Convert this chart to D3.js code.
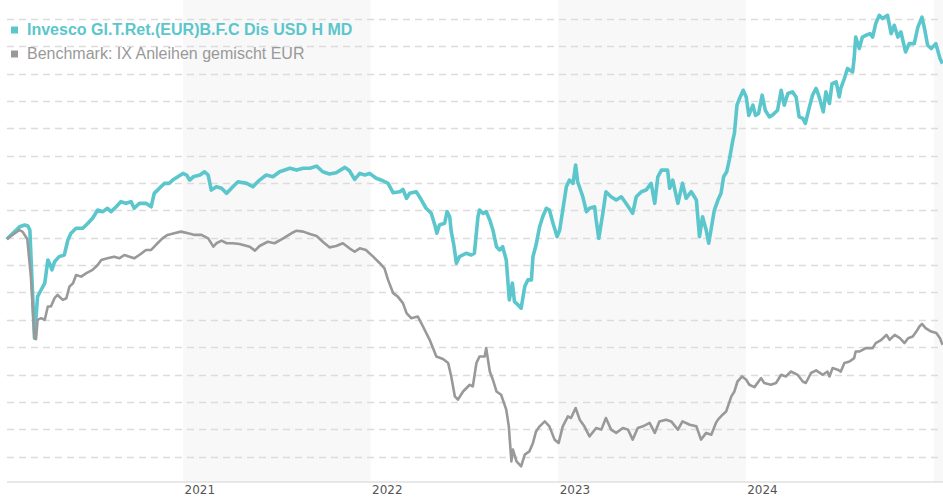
<!DOCTYPE html>
<html>
<head>
<meta charset="utf-8">
<script src="https://cdn.jsdelivr.net/npm/d3@7"></script>
<style>
  body { margin: 0; background: #fff; }
  svg { display: block; }
</style>
</head>
<body>
<div id="chart"></div>
<script>
// Fund and benchmark performance (%)
const fundName = "Invesco Gl.T.Ret.(EUR)B.F.C Dis USD H MD";
const benchName = "Benchmark: IX Anleihen gemischt EUR";

const fundDates = [
  "2020-01-24","2020-02-18","2020-02-28","2020-03-05","2020-03-09","2020-03-18","2020-03-24","2020-03-31","2020-04-07","2020-04-13",
  "2020-04-16","2020-04-21","2020-04-26","2020-05-05","2020-05-15","2020-05-22","2020-05-28","2020-06-07","2020-06-20","2020-06-30",
  "2020-07-09","2020-07-19","2020-07-29","2020-08-07","2020-08-14","2020-08-24","2020-09-02","2020-09-12","2020-09-22","2020-09-28",
  "2020-10-08","2020-10-21","2020-10-31","2020-11-06","2020-11-16","2020-11-26","2020-12-05","2020-12-12","2020-12-22","2021-01-01",
  "2021-01-08","2021-01-14","2021-01-21","2021-02-03","2021-02-12","2021-02-19","2021-02-25","2021-03-07","2021-03-17","2021-03-27",
  "2021-04-08","2021-04-18","2021-05-05","2021-05-17","2021-05-30","2021-06-12","2021-06-25","2021-07-08","2021-07-28","2021-08-10",
  "2021-08-23","2021-09-05","2021-09-18","2021-09-30","2021-10-13","2021-10-26","2021-11-12","2021-11-21","2021-12-01","2021-12-11",
  "2021-12-21","2021-12-30","2022-01-12","2022-01-25","2022-02-04","2022-02-14","2022-02-27","2022-03-05","2022-03-12","2022-03-18",
  "2022-03-31","2022-04-10","2022-04-19","2022-04-29","2022-05-06","2022-05-10","2022-05-15","2022-05-25","2022-05-30","2022-06-04",
  "2022-06-07","2022-06-12","2022-06-17","2022-06-23","2022-07-06","2022-07-16","2022-07-22","2022-07-29","2022-08-01","2022-08-08",
  "2022-08-14","2022-08-21","2022-08-27","2022-09-03","2022-09-09","2022-09-15","2022-09-22","2022-09-28","2022-10-04","2022-10-08",
  "2022-10-15","2022-10-21","2022-10-28","2022-11-03","2022-11-10","2022-11-13","2022-11-19","2022-11-26","2022-12-02","2022-12-09",
  "2022-12-15","2022-12-22","2022-12-30","2023-01-04","2023-01-10","2023-01-17","2023-01-23","2023-01-30","2023-02-04","2023-02-08",
  "2023-02-18","2023-02-25","2023-03-03","2023-03-13","2023-03-16","2023-03-21","2023-03-29","2023-04-04","2023-04-14","2023-04-24",
  "2023-05-04","2023-05-13","2023-05-26","2023-06-02","2023-06-12","2023-06-21","2023-07-01","2023-07-08","2023-07-14","2023-07-21",
  "2023-08-02","2023-08-06","2023-08-12","2023-08-22","2023-08-31","2023-09-07","2023-09-17","2023-09-27","2023-10-03","2023-10-09",
  "2023-10-16","2023-10-21","2023-10-26","2023-11-01","2023-11-08","2023-11-14","2023-11-19","2023-11-25","2023-11-30","2023-12-07",
  "2023-12-10","2023-12-15","2023-12-20","2023-12-27","2024-01-02","2024-01-07","2024-01-15","2024-01-20","2024-01-26","2024-02-02",
  "2024-02-08","2024-02-16","2024-02-22","2024-03-03","2024-03-10","2024-03-16","2024-03-23","2024-04-01","2024-04-08","2024-04-14",
  "2024-04-21","2024-04-26","2024-05-04","2024-05-10","2024-05-17","2024-05-23","2024-05-31","2024-06-05","2024-06-12","2024-06-17",
  "2024-06-25","2024-07-01","2024-07-04","2024-07-11","2024-07-17","2024-07-27","2024-07-30","2024-08-02","2024-08-09","2024-08-15",
  "2024-08-22","2024-08-30","2024-09-04","2024-09-10","2024-09-17","2024-09-23","2024-10-03","2024-10-10","2024-10-16","2024-10-23",
  "2024-10-29","2024-11-07","2024-11-14","2024-11-24","2024-12-01","2024-12-09","2024-12-14","2024-12-20","2024-12-27","2025-01-05",
  "2025-01-13","2025-01-18"
];
const fundValues = [
  -0.11,0.81,0.94,0.86,0.57,-7.34,-4.3,-3.8,-3.32,-1.62,
  -1.84,-2.35,-1.75,-1.38,-1.26,-0.16,0.33,0.7,0.7,1.06,
  1.43,2.03,1.91,2.16,1.91,2.27,2.64,2.52,2.64,2.16,
  2.52,2.52,2.27,3.25,3.62,3.98,3.98,4.22,4.46,4.71,
  4.59,4.22,4.46,4.59,4.83,4.59,3.49,3.73,3.62,3.25,
  3.73,4.1,3.98,3.73,4.22,4.59,4.46,4.83,5.08,4.95,
  5.08,5.08,5.24,4.83,4.66,4.75,5.15,4.9,4.27,4.71,
  4.59,4.71,4.35,4.17,3.98,3.29,3.37,3.54,2.89,3.25,
  3.37,2.76,2.16,1.79,0.94,0.33,0.94,1.06,1.91,1.54,
  0.45,-0.53,-1.86,-1.38,-1.13,-1.26,-1.13,1.54,2.03,1.79,
  1.91,1.3,0.57,-0.65,-0.89,-0.65,-1.62,-4.54,-3.32,-4.67,
  -4.91,-5.15,-3.57,-3.08,-3.08,-1.38,-0.53,0.81,1.54,2.16,
  2.03,1.06,0.08,0.57,2.03,3.73,4.22,3.98,5.32,4.1,
  3.0,1.91,2.16,2.27,1.3,-0.04,1.79,3.37,3.0,2.76,
  3.0,2.52,1.79,3.0,3.37,3.49,3.98,2.52,4.46,4.95,
  4.95,3.62,4.22,2.52,3.98,2.89,3.37,2.76,0.08,1.54,
  0.57,-0.4,0.7,2.03,2.76,3.25,4.46,4.83,5.68,7.14,
  7.63,9.7,10.19,10.79,10.3,8.95,9.7,8.95,9.09,10.43,
  9.33,8.84,8.97,9.33,10.79,9.7,10.55,10.67,10.3,8.84,
  8.73,8.36,9.57,10.43,10.92,10.3,9.21,10.67,9.82,11.28,
  11.4,10.3,10.92,11.65,12.38,12.13,13.11,14.68,13.84,14.68,
  14.81,14.93,14.68,15.66,16.27,16.03,16.27,14.93,15.54,14.68,
  15.05,13.59,14.2,14.2,15.41,16.14,15.3,14.08,13.84,14.2,
  13.11,12.74
];

const benchDates = [
  "2020-01-24","2020-02-18","2020-02-24","2020-03-04","2020-03-11","2020-03-18","2020-03-21","2020-03-24","2020-03-31","2020-04-07",
  "2020-04-13","2020-04-19","2020-04-26","2020-05-02","2020-05-12","2020-05-19","2020-05-25","2020-06-01","2020-06-07","2020-06-17",
  "2020-06-27","2020-07-09","2020-07-19","2020-07-26","2020-08-07","2020-08-20","2020-08-30","2020-09-09","2020-09-19","2020-09-28",
  "2020-10-08","2020-10-21","2020-10-31","2020-11-09","2020-11-22","2020-12-02","2020-12-15","2020-12-28","2021-01-11","2021-01-24",
  "2021-02-06","2021-02-19","2021-03-01","2021-03-07","2021-03-17","2021-03-27","2021-04-08","2021-04-21","2021-05-11","2021-05-21",
  "2021-05-30","2021-06-15","2021-06-28","2021-07-15","2021-07-31","2021-08-10","2021-08-23","2021-09-05","2021-09-18","2021-09-30",
  "2021-10-13","2021-10-26","2021-11-08","2021-11-21","2021-12-01","2021-12-11","2021-12-23","2022-01-06","2022-01-19","2022-01-28",
  "2022-02-04","2022-02-14","2022-02-23","2022-03-05","2022-03-12","2022-03-21","2022-04-03","2022-04-13","2022-04-26","2022-05-09",
  "2022-05-22","2022-06-01","2022-06-07","2022-06-14","2022-06-20","2022-06-30","2022-07-13","2022-07-19","2022-07-26","2022-08-01",
  "2022-08-11","2022-08-14","2022-08-21","2022-08-27","2022-09-03","2022-09-12","2022-09-22","2022-09-27","2022-10-02","2022-10-05",
  "2022-10-12","2022-10-21","2022-10-28","2022-11-06","2022-11-13","2022-11-19","2022-11-26","2022-12-06","2022-12-15","2022-12-25",
  "2023-01-02","2023-01-10","2023-01-20","2023-01-26","2023-02-04","2023-02-12","2023-02-21","2023-03-03","2023-03-16","2023-03-26",
  "2023-04-04","2023-04-14","2023-04-24","2023-05-07","2023-05-17","2023-05-26","2023-06-05","2023-06-15","2023-06-28","2023-07-08",
  "2023-07-17","2023-07-30","2023-08-09","2023-08-22","2023-08-31","2023-09-14","2023-09-27","2023-10-06","2023-10-16","2023-10-26",
  "2023-11-04","2023-11-08","2023-11-17","2023-11-24","2023-12-04","2023-12-10","2023-12-16","2023-12-25","2024-01-02","2024-01-08",
  "2024-01-18","2024-01-31","2024-02-06","2024-02-19","2024-02-29","2024-03-10","2024-03-19","2024-03-29","2024-04-11","2024-04-21",
  "2024-04-27","2024-05-07","2024-05-17","2024-05-30","2024-06-08","2024-06-12","2024-06-18","2024-06-28","2024-07-04","2024-07-11",
  "2024-07-21","2024-07-30","2024-08-02","2024-08-09","2024-08-22","2024-09-04","2024-09-10","2024-09-21","2024-10-01","2024-10-07",
  "2024-10-17","2024-10-27","2024-11-05","2024-11-12","2024-11-21","2024-11-28","2024-12-04","2024-12-09","2024-12-16","2024-12-27",
  "2025-01-06","2025-01-13","2025-01-18"
];
const benchValues = [
  -0.09,0.57,0.43,-0.09,-2.84,-7.34,-7.41,-6.0,-5.88,-6.0,
  -5.03,-5.03,-4.42,-4.18,-4.54,-4.42,-3.57,-3.32,-2.72,-2.84,
  -2.59,-2.35,-1.99,-1.62,-1.5,-1.38,-1.5,-1.26,-1.38,-1.5,
  -1.26,-0.89,-0.89,-0.53,-0.04,0.21,0.33,0.45,0.33,0.21,
  0.21,-0.04,-0.65,-0.4,-0.21,-0.4,-0.4,-0.45,-0.65,-0.94,
  -0.6,-0.29,-0.4,-0.04,0.33,0.52,0.45,0.28,0.13,-0.29,
  -0.7,-0.6,-0.4,-0.77,-1.02,-0.77,-0.89,-1.38,-1.86,-2.23,
  -3.08,-4.05,-4.3,-4.78,-5.51,-5.88,-5.76,-6.49,-7.46,-8.68,
  -8.87,-9.16,-10.14,-11.6,-11.84,-11.24,-10.75,-10.87,-9.16,-8.68,
  -8.68,-8.07,-9.78,-10.38,-11.24,-11.48,-12.57,-13.79,-16.35,-15.49,
  -16.35,-16.71,-15.86,-15.62,-15.0,-14.16,-13.79,-13.43,-13.79,-14.76,
  -15.0,-13.79,-13.06,-13.18,-12.45,-13.3,-13.79,-14.52,-13.91,-14.03,
  -13.18,-14.03,-14.27,-13.91,-14.03,-14.76,-13.91,-13.79,-13.54,-14.27,
  -13.43,-13.3,-13.43,-14.03,-13.43,-13.67,-13.79,-14.76,-14.27,-14.4,
  -13.54,-13.3,-12.94,-12.7,-11.6,-11.24,-10.51,-10.14,-10.38,-10.75,
  -10.92,-10.26,-10.62,-10.75,-10.62,-10.02,-10.14,-9.78,-10.02,-10.51,
  -10.62,-9.89,-9.7,-10.02,-9.78,-10.14,-9.53,-9.65,-9.78,-9.16,
  -9.05,-8.8,-8.32,-8.32,-8.07,-8.07,-7.7,-7.46,-7.1,-7.46,
  -7.1,-7.34,-7.7,-7.34,-7.22,-6.86,-6.49,-6.3,-6.61,-6.86,
  -6.97,-7.34,-7.83
];

const yearTicks = ["2021-01-01","2022-01-01","2023-01-01","2024-01-01","2025-01-01"];
const gridValues = [-16,-14,-12,-10,-8,-6,-4,-2,0,2,4,6,8,10,12,14,16];

const fundColor = "#5bc6cc";
const benchColor = "#999999";

const width = 943;
const height = 500;
const plotLeft = 7;
const plotBottom = 482;

const parse = d3.utcParse("%Y-%m-%d");
const fund = fundDates.map((d, i) => ({ date: parse(d), value: fundValues[i] }));
const bench = benchDates.map((d, i) => ({ date: parse(d), value: benchValues[i] }));
const ticks = yearTicks.map(parse);

const x = d3.scaleUtc()
  .domain([parse("2021-01-01"), parse("2025-01-01")])
  .range([183, 933.8]);

const y = d3.scaleLinear()
  .domain([-17.86, 17.39])
  .range([plotBottom, 0]);

const svg = d3.select("#chart")
  .append("svg")
  .attr("width", width)
  .attr("height", height);

// Shaded every other year
const bandStarts = [ticks[0], ticks[2], ticks[4]];
svg.append("g")
  .selectAll("rect")
  .data(bandStarts)
  .join("rect")
    .attr("x", d => x(d))
    .attr("y", 0)
    .attr("width", d => Math.min(x(d3.utcYear.offset(d, 1)), width) - x(d))
    .attr("height", plotBottom)
    .attr("fill", "#f8f8f8");

// Dashed horizontal grid
svg.append("g")
  .selectAll("line")
  .data(gridValues)
  .join("line")
    .attr("x1", plotLeft)
    .attr("x2", width)
    .attr("y1", d => Math.round(y(d)) + 0.5)
    .attr("y2", d => Math.round(y(d)) + 0.5)
    .attr("stroke", "#dcdcdc")
    .attr("stroke-width", 1.3)
    .attr("stroke-dasharray", "7,5");

// x axis
const xAxis = d3.axisBottom(x)
  .tickValues(ticks.slice(0, 4))
  .tickSize(0)
  .tickPadding(0)
  .tickFormat(d3.utcFormat("%Y"));

const axisG = svg.append("g")
  .attr("transform", `translate(0,${plotBottom})`)
  .call(xAxis);
axisG.select(".domain").remove();
axisG.selectAll("text")
  .attr("text-anchor", "start")
  .attr("dx", 1)
  .attr("y", 12)
  .attr("dy", 0)
  .attr("fill", "#555")
  .style("font-family", "'DejaVu Sans', sans-serif")
  .style("font-size", "12px");

svg.append("line")
  .attr("x1", plotLeft)
  .attr("x2", width)
  .attr("y1", plotBottom)
  .attr("y2", plotBottom)
  .attr("stroke", "#e0e0e0")
  .attr("stroke-width", 1.5);

// Lines
const line = d3.line()
  .x(d => x(d.date))
  .y(d => y(d.value));

svg.append("path")
  .datum(fund)
  .attr("fill", "none")
  .attr("stroke", fundColor)
  .attr("stroke-width", 3.6)
  .attr("stroke-linejoin", "round")
  .attr("d", line);

svg.append("path")
  .datum(bench)
  .attr("fill", "none")
  .attr("stroke", benchColor)
  .attr("stroke-width", 2.6)
  .attr("stroke-linejoin", "round")
  .attr("d", line);

// Legend
const legend = svg.append("g")
  .style("font-family", "'Liberation Sans', Arial, sans-serif")
  .style("font-size", "16px");

const legendItems = [
  { label: fundName, color: fundColor, weight: "bold", y: 35 },
  { label: benchName, color: benchColor, weight: "normal", y: 59 }
];

legend.selectAll("rect")
  .data(legendItems)
  .join("rect")
    .attr("x", 11)
    .attr("y", d => d.y - 8.5)
    .attr("width", 7)
    .attr("height", 7)
    .attr("fill", d => d.color);

legend.selectAll("text")
  .data(legendItems)
  .join("text")
    .attr("x", 27)
    .attr("y", d => d.y)
    .attr("fill", d => d.color)
    .attr("font-weight", d => d.weight)
    .text(d => d.label);
</script>
</body>
</html>
